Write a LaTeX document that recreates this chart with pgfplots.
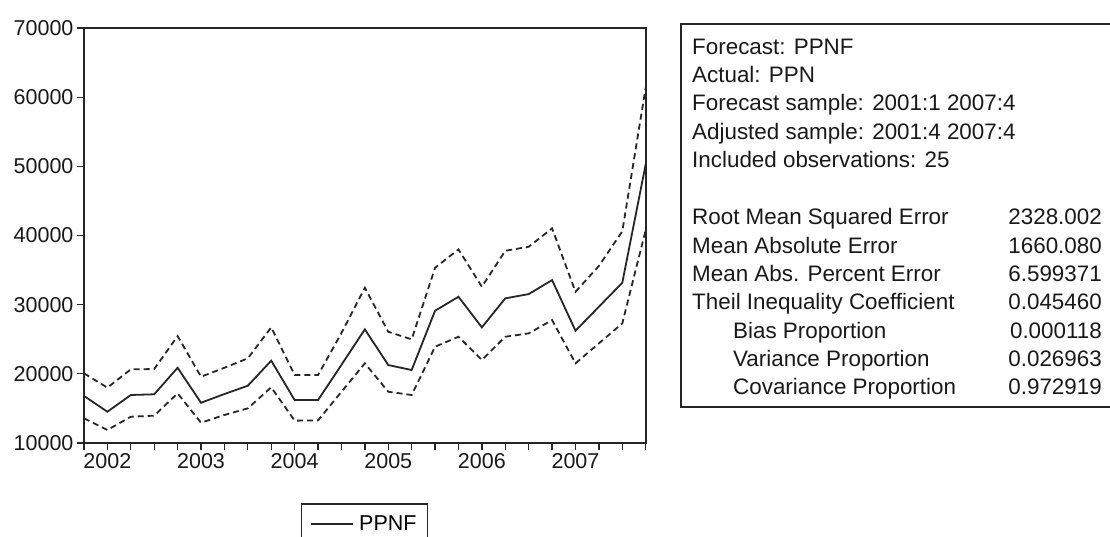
\documentclass[border=0pt]{standalone}
\usepackage{fontspec}
\setmainfont{Liberation Sans}
\usepackage{pgfplots}
\usepackage{pgfplotstable}
\pgfplotsset{compat=1.18}
\pgfplotstableread{
idx ppnf upper lower
0 16800 20070 13570
1 14520 18000 11880
2 16940 20650 13800
3 17040 20690 13950
4 20880 25460 17180
5 15820 19580 12930
6 17080 20880 14050
7 18280 22240 15010
8 21900 26720 18050
9 16210 19830 13230
10 16210 19830 13270
11 21300 25900 17400
12 26430 32440 21520
13 21270 26080 17410
14 20550 24980 16940
15 29120 35330 23920
16 31140 37990 25360
17 26720 32590 22000
18 30910 37790 25360
19 31530 38370 25850
20 33550 41030 27770
21 26230 31860 21520
22 29700 35600 24400
23 33170 40600 27300
24 50300 61400 40800
}\datatable
\begin{document}
\begin{tikzpicture}[x=1pt,y=1pt]
\path[use as bounding box] (0,0) rectangle (1110,537);
\begin{axis}[
  at={(84pt,94pt)}, anchor=south west, scale only axis,
  width=561.7pt, height=415pt,
  xmin=0, xmax=24, ymin=10000, ymax=70000,
  xtick={0,...,24},
  xticklabels={,2002,,,,2003,,,,2004,,,,2005,,,,2006,,,,2007,,,},
  ytick={10000,20000,...,70000},
  tick align=outside, xtick pos=bottom, ytick pos=left,
  major tick length=7pt,
  axis line style={line width=1.8pt, black!85},
  tick style={line width=1.3pt, black!85},
  ticklabel style={font=\fontsize{21.5}{25}\selectfont, text=black!90},
  /pgf/number format/assume math mode=true,
  /pgf/number format/set thousands separator={},
  scaled y ticks=false,
  legend style={at={(0.386,-0.1446)}, anchor=north west, draw=black!85,
    line width=1.5pt, font=\fontsize{21.5}{25}\selectfont,
    inner xsep=9pt, inner ysep=10pt},
  legend image code/.code={\draw[line width=1.5pt] (0pt,0pt) -- (42pt,0pt);\path (45pt,0pt);},
]
\addplot[black!85, line width=1.8pt, dash pattern=on 6pt off 4pt, forget plot] table[x=idx, y=upper] {\datatable};
\addplot[black!85, line width=1.8pt, dash pattern=on 6pt off 4pt, forget plot] table[x=idx, y=lower] {\datatable};
\addplot[black!85, line width=1.8pt] table[x=idx, y=ppnf] {\datatable};
\addlegendentry{PPNF}
\end{axis}
\draw[line width=1.6pt, black!85] (1125,513) -- (680.7,513) -- (680.7,130) -- (1125,130);
\begin{scope}[every node/.style={anchor=base west, inner sep=0pt, font=\fontsize{22.4}{26}\selectfont, text=black!90}]
\node at (692,482.8) {Forecast: PPNF};
\node at (692,454.5) {Actual: PPN};
\node at (692,426.2) {Forecast sample: 2001:1 2007:4};
\node at (692,397.8) {Adjusted sample: 2001:4 2007:4};
\node at (692,369.5) {Included observations: 25};
\node at (692,312.2) {Root Mean Squared Error};
\node at (692,283.8) {Mean Absolute Error};
\node at (692,255.5) {Mean Abs. Percent Error};
\node at (692,227.2) {Theil Inequality Coefficient};
\node at (733,198.8) {Bias Proportion};
\node at (733,170.5) {Variance Proportion};
\node at (733,142.2) {Covariance Proportion};
\end{scope}
\begin{scope}[every node/.style={anchor=base east, inner sep=0pt, font=\fontsize{22.4}{26}\selectfont, text=black!90}]
\node at (1102,312.2) {2328.002};
\node at (1102,283.8) {1660.080};
\node at (1102,255.5) {6.599371};
\node at (1102,227.2) {0.045460};
\node at (1102,198.8) {0.000118};
\node at (1102,170.5) {0.026963};
\node at (1102,142.2) {0.972919};
\end{scope}
\end{tikzpicture}
\end{document}
